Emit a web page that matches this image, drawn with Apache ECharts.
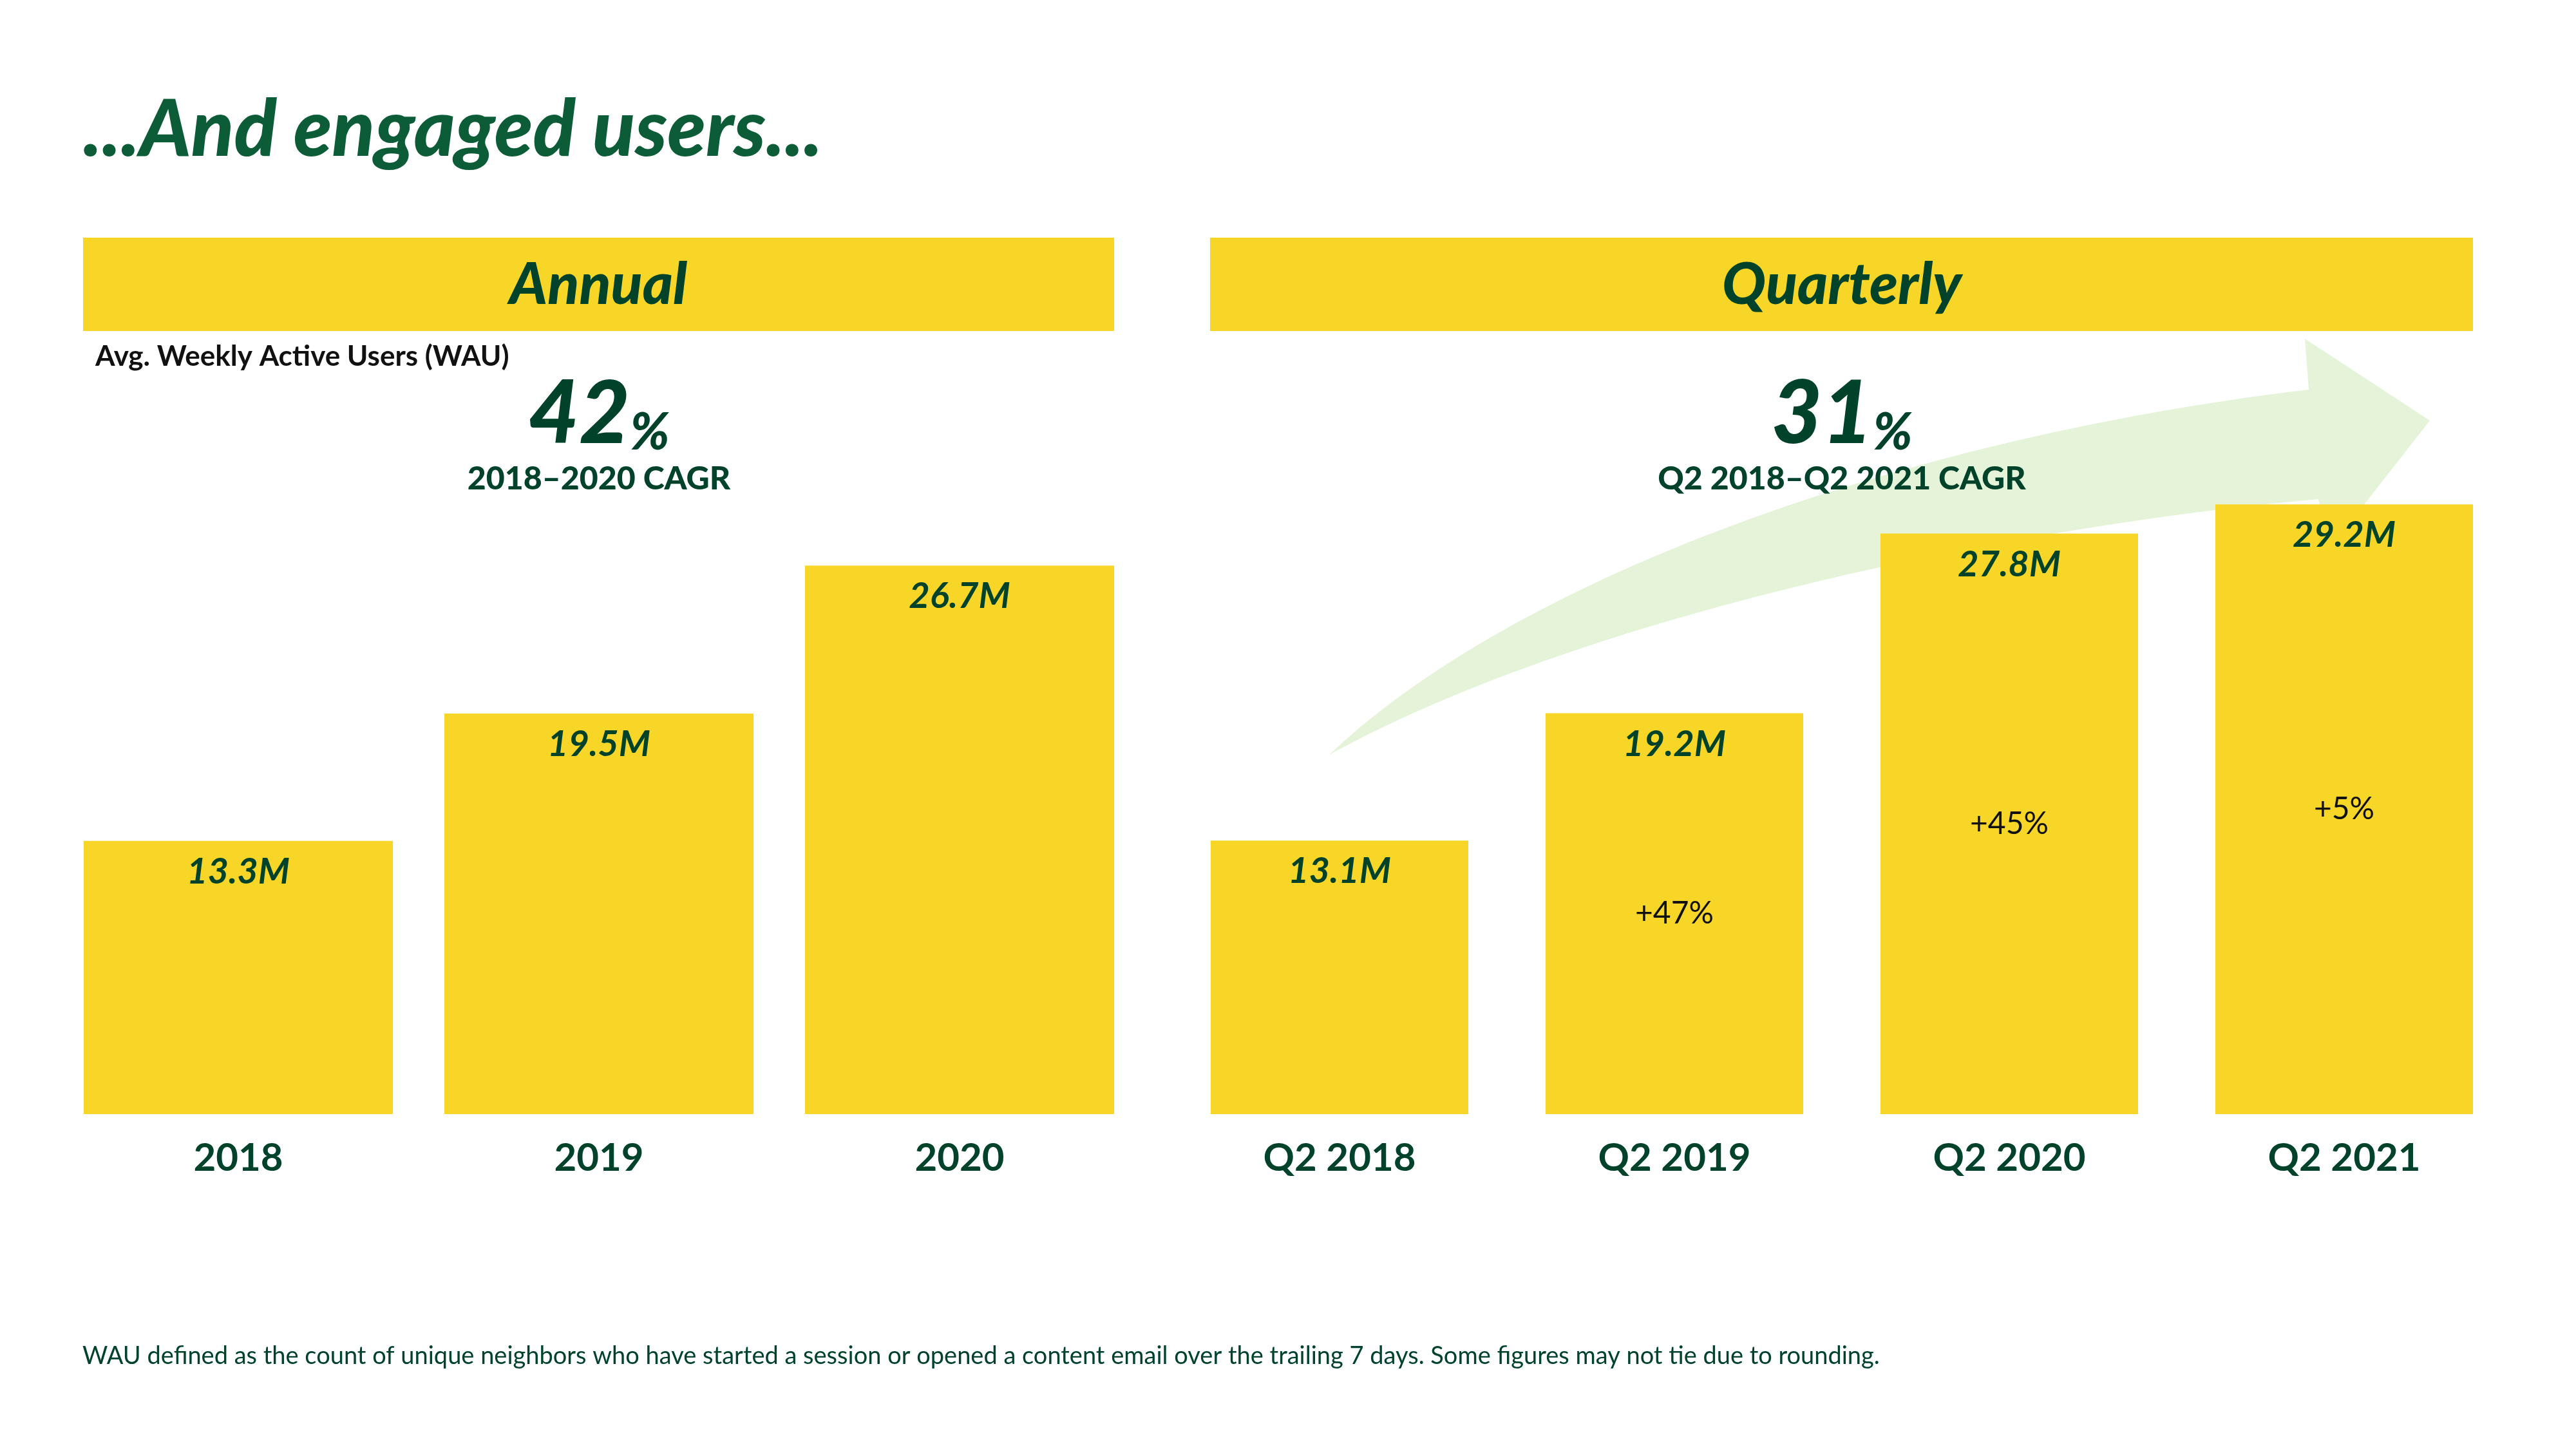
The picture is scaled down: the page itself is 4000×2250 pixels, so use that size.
<!DOCTYPE html>
<html>
<head>
<meta charset="utf-8">
<script src="https://cdn.jsdelivr.net/npm/echarts@6/dist/echarts.min.js"></script>
<style>
html,body{margin:0;padding:0;background:#ffffff;}
#chart{width:4000px;height:2250px;}
</style>
</head>
<body>
<div id="chart"></div>
<script>
// ---- data ----
const annualCategories = ['2018', '2019', '2020'];
const annualValues = [13.3, 19.5, 26.7];
const quarterlyCategories = ['Q2 2018', 'Q2 2019', 'Q2 2020', 'Q2 2021'];
const quarterlyValues = [13.1, 19.2, 27.8, 29.2];
const quarterlyGrowth = ['', '+47%', '+45%', '+5%'];
const annualCagr = '42';
const quarterlyCagr = '31';

const YELLOW = '#F8D627';
const GREEN = '#0B5C37';
const DARK = '#00432A';
const FONT = 'Lato';

const chart = echarts.init(document.getElementById('chart'), null, {renderer: 'canvas'});

function cubic(p0, p1, p2, p3, n) {
  const pts = [];
  for (let i = 0; i <= n; i++) {
    const t = i / n, u = 1 - t;
    pts.push([
      u*u*u*p0[0] + 3*u*u*t*p1[0] + 3*u*t*t*p2[0] + t*t*t*p3[0],
      u*u*u*p0[1] + 3*u*u*t*p1[1] + 3*u*t*t*p2[1] + t*t*t*p3[1]
    ]);
  }
  return pts;
}
const tail = [2064, 1172];
const upperEnd = [3585, 605];
const lowerStart = [3600, 775];
const arrowPts = []
  .concat(cubic(tail, [2350, 900], [2950, 680], upperEnd, 60))
  .concat([[3579, 526], [3773, 653], [3615, 855]])
  .concat(cubic(lowerStart, [3100, 820], [2450, 960], tail, 60));

const valueLabel = {
  show: true,
  position: 'insideTop',
  distance: 20,
  fontFamily: FONT,
  fontSize: 56,
  fontWeight: 'bold',
  fontStyle: 'italic',
  color: DARK,
  formatter: p => p.value.toFixed(1) + 'M'
};

const catAxisCommon = {
  type: 'category',
  axisLine: {show: false},
  axisTick: {show: false},
  axisLabel: {fontFamily: FONT, fontSize: 60, fontWeight: 'bold', color: DARK, margin: 39}
};
const valAxisCommon = {
  type: 'value', min: 0, max: 40, show: false,
  splitLine: {show: false}
};

const cagrRich = {
  a: {fontFamily: FONT, fontSize: 136, fontWeight: 900, fontStyle: 'italic', fill: DARK, verticalAlign: 'bottom'},
  b: {fontFamily: FONT, fontSize: 80, fontWeight: 900, fontStyle: 'italic', fill: DARK, verticalAlign: 'bottom'}
};

const option = {
  backgroundColor: '#ffffff',
  animation: false,
  grid: [
    {left: 90, width: 1680, top: 454, bottom: 520},
    {left: 1820, width: 2080, top: 433, bottom: 520}
  ],
  xAxis: [
    Object.assign({gridIndex: 0, data: annualCategories}, catAxisCommon),
    Object.assign({gridIndex: 1, data: quarterlyCategories}, catAxisCommon)
  ],
  yAxis: [
    Object.assign({gridIndex: 0}, valAxisCommon),
    Object.assign({gridIndex: 1}, valAxisCommon)
  ],
  graphic: [
    {type: 'polygon', z: -10, shape: {points: arrowPts}, style: {fill: '#E5F4D8'}},
    {type: 'text', left: 129, top: 142, style: {
      text: '...And engaged users...', fontFamily: FONT, fontSize: 122, fontWeight: 900,
      fontStyle: 'italic', fill: GREEN }},
    {type: 'rect', shape: {x: 129, y: 369, width: 1601, height: 145}, style: {fill: YELLOW}},
    {type: 'rect', shape: {x: 1879, y: 369, width: 1961, height: 145}, style: {fill: YELLOW}},
    {type: 'text', x: 929, y: 443, style: {
      text: 'Annual', fontFamily: FONT, fontSize: 90, fontWeight: 900, fontStyle: 'italic',
      fill: DARK, align: 'center', verticalAlign: 'middle'}},
    {type: 'text', x: 2860, y: 443, style: {
      text: 'Quarterly', fontFamily: FONT, fontSize: 90, fontWeight: 900, fontStyle: 'italic',
      fill: DARK, align: 'center', verticalAlign: 'middle'}},
    {type: 'text', x: 148, y: 554, style: {
      text: 'Avg. Weekly Active Users (WAU)', fontFamily: FONT, fontSize: 44, fontWeight: 'bold',
      fill: '#111111', align: 'left', verticalAlign: 'middle'}},
    {type: 'text', x: 930, y: 712, style: {
      text: '{a|' + annualCagr + '}{b|%}', align: 'center', verticalAlign: 'bottom', fill: DARK, rich: cagrRich}},
    {type: 'text', x: 2860, y: 712, style: {
      text: '{a|' + quarterlyCagr + '}{b|%}', align: 'center', verticalAlign: 'bottom', fill: DARK, rich: cagrRich}},
    {type: 'text', x: 930, y: 744, style: {
      text: '2018\u20132020 CAGR', fontFamily: FONT, fontSize: 50, fontWeight: 900,
      fill: DARK, align: 'center', verticalAlign: 'middle'}},
    {type: 'text', x: 2860, y: 744, style: {
      text: 'Q2 2018\u2013Q2 2021 CAGR', fontFamily: FONT, fontSize: 50, fontWeight: 900,
      fill: DARK, align: 'center', verticalAlign: 'middle'}},
    {type: 'text', x: 128, y: 2106, style: {
      text: 'WAU defined as the count of unique neighbors who have started a session or opened a content email over the trailing 7 days. Some figures may not tie due to rounding.',
      fontFamily: FONT, fontSize: 38, fill: DARK, align: 'left', verticalAlign: 'middle'}}
  ],
  series: [
    {
      type: 'bar', xAxisIndex: 0, yAxisIndex: 0, data: annualValues,
      barWidth: 480, itemStyle: {color: YELLOW}, label: valueLabel, z: 3
    },
    {
      type: 'bar', xAxisIndex: 1, yAxisIndex: 1, data: quarterlyValues,
      barWidth: 400, barGap: '-100%', itemStyle: {color: YELLOW}, label: valueLabel, z: 3
    },
    {
      type: 'bar', xAxisIndex: 1, yAxisIndex: 1, data: quarterlyValues,
      barWidth: 400, barGap: '-100%', itemStyle: {color: 'rgba(0,0,0,0)'}, z: 4,
      label: {
        show: true, position: 'inside', fontFamily: FONT, fontSize: 48, color: '#111111',
        formatter: p => quarterlyGrowth[p.dataIndex]
      }
    }
  ]
};
chart.setOption(option);
</script>
</body>
</html>
